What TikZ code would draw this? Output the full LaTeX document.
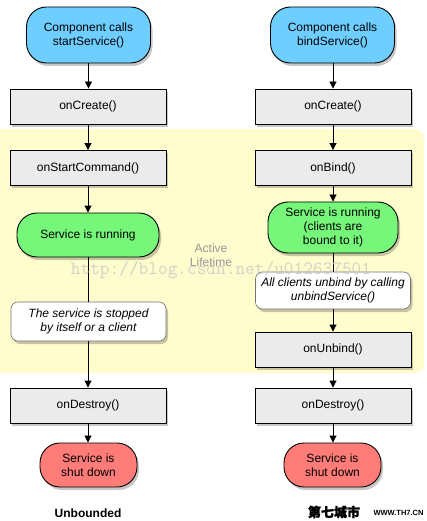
\documentclass[tikz,border=0pt]{standalone}
\usepackage{fontspec}
\setmainfont{Liberation Sans}
\newfontfamily\cjkfont[FakeBold=1.5]{Noto Sans CJK SC}
\usetikzlibrary{arrows.meta,shadows}
\definecolor{startblue}{RGB}{110,206,255}
\definecolor{rungreen}{RGB}{118,247,122}
\definecolor{stopred}{RGB}{255,124,120}
\definecolor{boxgray}{RGB}{235,235,235}
\definecolor{lifeyellow}{RGB}{255,252,206}
\definecolor{lifegray}{RGB}{150,150,150}
\definecolor{wmgray}{RGB}{196,196,196}
\begin{document}
\begin{tikzpicture}[x=1pt,y=-1pt,
  base/.style={draw=black, line width=0.9pt, align=center, inner sep=0pt,
    font=\fontsize{12}{14}\selectfont,
    drop shadow={shadow xshift=2pt, shadow yshift=-3pt, opacity=0.22, fill=black}},
  method/.style={base, fill=boxgray, minimum width=156pt, minimum height=35pt},
  startnode/.style={base, fill=startblue, rounded corners=20pt, minimum width=124pt, minimum height=56pt},
  runnode/.style={base, fill=rungreen, rounded corners=20pt, minimum height=44pt},
  endnode/.style={base, fill=stopred, rounded corners=20pt, minimum width=97pt, minimum height=44pt},
  notenode/.style={base, fill=white, draw=black!55, line width=0.6pt, rounded corners=7pt,
    minimum width=155pt, font=\fontsize{12}{14}\selectfont\itshape},
  conn/.style={draw=black, line width=0.9pt, -{Triangle[length=7pt,width=7pt]}},
  plain/.style={draw=black, line width=0.9pt}
]
\useasboundingbox (0,0) rectangle (427,521);
\fill[white] (0,0) rectangle (427,521);
% active lifetime region
\fill[lifeyellow, rounded corners=9pt] (-20,129) rectangle (424,373);
\node[text=lifegray, align=center, font=\fontsize{12}{13.5}\selectfont] (life) at (211,255) {Active\\Lifetime};

% left column
\node[startnode] (ls) at (88.5,35) {Component calls\\startService()};
\node[method] (lc) at (88,106.5) {onCreate()};
\node[method] (lsc) at (88,168) {onStartCommand()};
\node[runnode, minimum width=142pt] (lr) at (88,235) {Service is running};
\node[notenode, minimum height=39pt] (lst) at (88.5,321.5) {The service is stopped\\by itself or a client};
\node[method] (ld) at (88,405.5) {onDestroy()};
\node[endnode] (le) at (88.5,465) {Service is\\shut down};
\node[font=\fontsize{12}{14}\selectfont\bfseries] (lu) at (88,513) {Unbounded};

% right column
\node[startnode] (rs) at (332.5,35) {Component calls\\bindService()};
\node[method] (rc) at (333,106.5) {onCreate()};
\node[method] (rb) at (333,168) {onBind()};
\node[runnode, minimum width=130pt, minimum height=51pt] (rr) at (333,227.5) {Service is running\\(clients are\\bound to it)};
\node[notenode, minimum height=37pt] (ru) at (333,290.5) {All clients unbind by calling\\unbindService()};
\node[method] (rub) at (333,349.5) {onUnbind()};
\node[method] (rd) at (333,405.5) {onDestroy()};
\node[endnode] (re) at (332.5,465) {Service is\\shut down};

% connectors left
\draw[conn] (ls.south) -- (ls.south |- lc.north);
\draw[conn] (lc.south) -- (lsc.north);
\draw[conn] (lsc.south) -- (lr.north);
\draw[plain] (lr.south) -- (lst.north -| lr.south);
\draw[conn] (lst.south -| ld.north) -- (ld.north);
\draw[conn] (ld.south) -- (ld.south |- le.north);

% connectors right
\draw[conn] (rc.north |- rs.south) -- (rc.north);
\draw[conn] (rc.south) -- (rb.north);
\draw[conn] (rb.south) -- (rr.north);
\draw[plain] (rr.south) -- (ru.north);
\draw[conn] (ru.south) -- (rub.north);
\draw[conn] (rub.south) -- (rd.north);
\draw[conn] (rd.south) -- (rd.south |- re.north);

% watermarks
\node[text=wmgray, opacity=0.75, inner sep=0pt, font=\ttfamily\fontsize{18.8}{20}\selectfont] (wm) at (221,270) {http://blog.csdn.net/u012637501};
\node[inner sep=0pt, font=\cjkfont\fontsize{13}{14}\selectfont\bfseries] (wmc) at (334,512) {第七城市};
\node[inner sep=0pt, font=\fontsize{7.5}{8}\selectfont\bfseries] (wmw) at (398.5,513) {WWW.TH7.CN};
\end{tikzpicture}
\end{document}
